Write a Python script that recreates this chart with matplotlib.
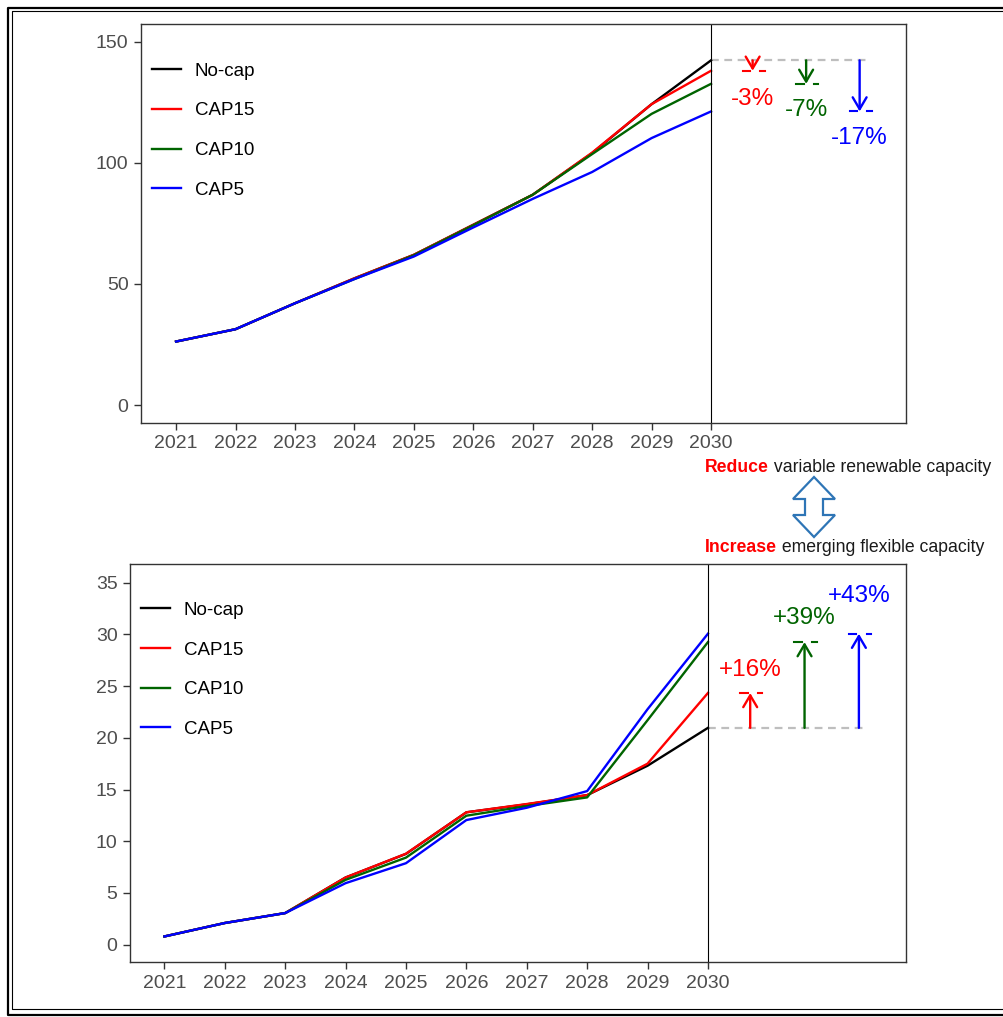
import matplotlib
matplotlib.use("Agg")
import matplotlib.pyplot as plt
from matplotlib.patches import Polygon
from matplotlib.lines import Line2D

plt.rcParams['font.family'] = ['Liberation Sans', 'DejaVu Sans']

years = [2021, 2022, 2023, 2024, 2025, 2026, 2027, 2028, 2029, 2030]
names = ["No-cap", "CAP15", "CAP10", "CAP5"]
colors = ["black", "#FF0000", "#006400", "#0000FF"]

# top panel: variable renewable capacity
top_nocap = [26.2, 31.3, 42.0, 52.3, 62.0, 74.4, 86.8, 104.0, 124.2, 142.3]
top_cap15 = [26.2, 31.3, 42.0, 52.3, 62.0, 74.4, 86.8, 104.2, 124.2, 138.0]
top_cap10 = [26.2, 31.3, 42.0, 52.0, 61.8, 74.2, 86.8, 103.6, 120.2, 132.6]
top_cap5 = [26.2, 31.3, 42.0, 52.0, 61.3, 73.3, 85.1, 96.2, 110.2, 121.2]
top_labels = ["-3%", "-7%", "-17%"]
top_yticks = [0, 50, 100, 150]

# bottom panel: emerging flexible capacity
bot_nocap = [0.8, 2.1, 3.06, 6.5, 8.78, 12.8, 13.57, 14.46, 17.3, 20.96]
bot_cap15 = [0.8, 2.1, 3.06, 6.5, 8.8, 12.8, 13.6, 14.46, 17.5, 24.33]
bot_cap10 = [0.8, 2.1, 3.06, 6.27, 8.42, 12.47, 13.4, 14.24, 21.7, 29.25]
bot_cap5 = [0.8, 2.1, 3.06, 5.95, 7.88, 12.05, 13.24, 14.85, 22.76, 30.06]
bot_labels = ["+16%", "+39%", "+43%"]
bot_yticks = [0, 5, 10, 15, 20, 25, 30, 35]

W, H = 1004, 1017
fig = plt.figure(figsize=(W / 100, H / 100), dpi=100)


def px_axes(l, t, r, b):
    return fig.add_axes([l / W, 1 - b / H, (r - l) / W, (b - t) / H])


def style(ax, yticks, xlim, ylim):
    ax.set_xlim(*xlim)
    ax.set_ylim(*ylim)
    ax.set_xticks(years)
    ax.set_yticks(yticks)
    for s in ax.spines.values():
        s.set_color("#333333")
        s.set_linewidth(1.0)
    ax.tick_params(length=5, width=1.0, color="#333333", labelcolor="#4D4D4D",
                   labelsize=14, pad=4)


def panel(ax, series, labels, arrow_x, label_off, ref, leg_y):
    for ys, n, c in zip(series, names, colors):
        ax.plot(years, ys, color=c, lw=1.7, label=n)
    ax.axvline(2030, color="black", lw=0.8)
    ax.plot([2030, arrow_x[-1] + 0.1], [ref, ref], color="#BEBEBE", lw=1.6,
            ls=(0, (3.5, 2.5)), zorder=1)
    for xa, ys, c, lab, off in zip(arrow_x, series[1:], colors[1:], labels, label_off):
        end = ys[-1]
        ax.annotate("", xy=(xa, end), xytext=(xa, ref),
                    arrowprops=dict(arrowstyle="->,head_length=0.85,head_width=0.5",
                                    color=c, lw=1.7, shrinkA=0, shrinkB=0))
        ax.plot([xa - 0.17, xa - 0.04], [end, end], color=c, lw=1.5)
        ax.plot([xa + 0.13, xa + 0.2], [end, end], color=c, lw=1.5)
        ax.text(xa, end + off, lab, color=c, fontsize=17.5, ha="center", va="center")
    ax.legend(loc="upper left", bbox_to_anchor=(0.014, leg_y), frameon=False,
              fontsize=13.5, handlelength=1.55, handletextpad=0.75, labelspacing=1.2,
              borderaxespad=0, borderpad=0)


ax1 = px_axes(141, 24, 906, 423)
style(ax1, top_yticks, (2020.41, 2033.28), (-7.43, 157.3))
panel(ax1, [top_nocap, top_cap15, top_cap10, top_cap5], top_labels,
      [2030.7, 2031.6, 2032.5], [-11.8, -10.8, -10.8], top_nocap[-1], 0.903)

ax2 = px_axes(130, 564, 906, 962)
style(ax2, bot_yticks, (2020.43, 2033.28), (-1.67, 36.8))
panel(ax2, [bot_nocap, bot_cap15, bot_cap10, bot_cap5], bot_labels,
      [2030.7, 2031.6, 2032.5], [2.2, 2.3, 3.6], bot_nocap[-1], 0.905)

# middle annotation
t1 = fig.text(705 / W, 1 - 468 / H, "Reduce", color="#FF0000", fontweight="bold",
              fontsize=12.7, ha="left", va="center")
ax1.annotate(" variable renewable capacity", xy=(1, 0), xycoords=t1, color="#1A1A1A",
             fontsize=12.7, ha="left", va="bottom", annotation_clip=False)
t2 = fig.text(705 / W, 1 - 547 / H, "Increase", color="#FF0000", fontweight="bold",
              fontsize=12.7, ha="left", va="center")
ax1.annotate(" emerging flexible capacity", xy=(1, 0), xycoords=t2, color="#1A1A1A",
             fontsize=12.7, ha="left", va="bottom", annotation_clip=False)

# hollow double-headed arrow
cx = 814
pts = [(cx, 477), (cx + 21, 499), (cx + 9, 499), (cx + 9, 515), (cx + 21, 515),
       (cx, 537), (cx - 21, 515), (cx - 9, 515), (cx - 9, 499), (cx - 21, 499)]
fig.add_artist(Polygon([(x / W, 1 - y / H) for x, y in pts], closed=True,
                       facecolor="white", edgecolor="#2E75B6", lw=1.6,
                       transform=fig.transFigure))

# double frame round the figure (right side falls outside the picture)
for x0, y0, y1, lw in [(8.5, 8.3, 1014.5, 1.6), (11.7, 11.0, 1009.0, 0.8)]:
    xs = [W + 5, x0, x0, W + 5]
    ys = [y0, y0, y1, y1]
    fig.add_artist(Line2D([x / W for x in xs], [1 - y / H for y in ys],
                          color="black", lw=lw, transform=fig.transFigure))

fig.savefig("out.png", dpi=100)
